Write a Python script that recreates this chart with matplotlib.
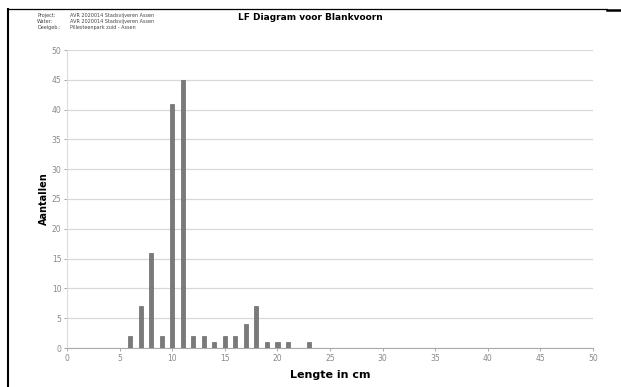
import matplotlib
matplotlib.use("Agg")
import matplotlib.pyplot as plt
from matplotlib.lines import Line2D

lengths = [6, 7, 8, 9, 10, 11, 12, 13, 14, 15, 16, 17, 18, 19, 20, 21, 23]
counts = [2, 7, 16, 2, 41, 45, 2, 2, 1, 2, 2, 4, 7, 1, 1, 1, 1]
x_ticks = [0, 5, 10, 15, 20, 25, 30, 35, 40, 45, 50]
y_ticks = [0, 5, 10, 15, 20, 25, 30, 35, 40, 45, 50]
header_labels = ["Project:", "Water:", "Deelgeb.:"]
header_values = ["AVR 2020014 Stadsvijveren Assen",
                 "AVR 2020014 Stadsvijveren Assen",
                 "Pillesteenpark zuid - Assen"]
title = "LF Diagram voor Blankvoorn"

fig = plt.figure(figsize=(6.21, 3.87), dpi=100)
ax = fig.add_axes([67/621, 1-348/387, (593-67)/621, (348-50)/387])

ax.bar(lengths, counts, width=0.4, color="#7a7a7a", edgecolor="#555555", linewidth=0.4, zorder=3)
ax.set_xlim(0, 50)
ax.set_ylim(0, 50)
ax.set_xticks(x_ticks)
ax.set_yticks(y_ticks)
ax.tick_params(axis="both", labelsize=5.5, colors="#888888", length=2, width=0.5, pad=2)
ax.grid(axis="y", color="#d8d8d8", linewidth=0.9, zorder=0)
for s in ["top", "right"]:
    ax.spines[s].set_visible(False)
ax.spines["left"].set_color("#dddddd")
ax.spines["bottom"].set_color("#aaaaaa")
ax.spines["left"].set_linewidth(0.8)
ax.spines["bottom"].set_linewidth(0.8)

ax.set_xlabel("Lengte in cm", fontsize=8, fontweight="bold", labelpad=5)
ax.set_ylabel("Aantallen", fontsize=7, fontweight="bold", labelpad=2)

fig.text(310/621, 1-17/387, title, fontsize=6.5, fontweight="bold", ha="center", va="center")
for i, (lab, val) in enumerate(zip(header_labels, header_values)):
    y = 1 - (15 + i*6.5)/387
    fig.text(37/621, y, lab, fontsize=3.5, color="#444444", va="center")
    fig.text(70/621, y, val, fontsize=3.5, color="#444444", va="center")

# page frame
fig.add_artist(Line2D([8/621, 8/621], [0, 1-9/387], color="black", linewidth=1.5, transform=fig.transFigure))
fig.add_artist(Line2D([8/621, 607/621], [1-9/387, 1-9/387], color="black", linewidth=0.9, transform=fig.transFigure))
fig.add_artist(Line2D([607/621, 620/621], [1-10/387, 1-10/387], color="black", linewidth=1.8, transform=fig.transFigure))

fig.savefig("out.png", dpi=100)
